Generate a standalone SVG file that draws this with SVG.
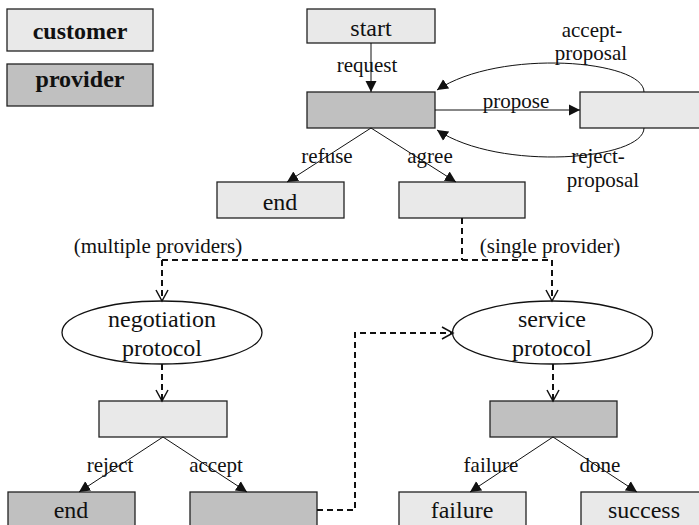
<svg xmlns="http://www.w3.org/2000/svg" width="699" height="525" viewBox="0 0 699 525">
<style>
.c{fill:#e9e9e9;stroke:#222;stroke-width:1.3}
.p{fill:#c0c0c0;stroke:#222;stroke-width:1.3}
.e{fill:#fff;stroke:#111;stroke-width:1.3}
text{font-family:"Liberation Serif","Times New Roman",serif;fill:#111;text-anchor:middle}
.n{font-size:24px}
.l{font-size:21px}
.b{font-size:24px;font-weight:bold}
.s{fill:none;stroke:#111;stroke-width:1}
.d{fill:none;stroke:#111;stroke-width:2;stroke-dasharray:6 4}
</style>
<defs>
<marker id="fa" markerUnits="userSpaceOnUse" markerWidth="12" markerHeight="12" viewBox="0 0 12 12" refX="11" refY="6" orient="auto">
<path d="M0,0.5 L11,6 L0,11.5 Z" fill="#111"/>
</marker>
<marker id="oa" markerUnits="userSpaceOnUse" markerWidth="14" markerHeight="14" viewBox="0 0 14 14" refX="12" refY="7" orient="auto">
<path d="M1,1 L12,7 L1,13" fill="none" stroke="#111" stroke-width="1.5"/>
</marker>
</defs>
<g id="legend-customer"><rect class="c" x="7" y="9" width="146" height="42"/><text class="b" x="80" y="39">customer</text></g>
<g id="legend-provider"><rect class="p" x="7" y="64" width="146" height="42"/><text class="b" x="80" y="87">provider</text></g>
<g id="start"><rect class="c" x="307" y="9" width="128" height="34"/><text class="n" x="371" y="36">start</text></g>
<g id="prov1"><rect class="p" x="307" y="92" width="128" height="36"/></g>
<g id="cust-propose"><rect class="c" x="580" y="92" width="130" height="36"/></g>
<g id="end1"><rect class="c" x="217" y="182" width="127" height="36"/><text class="n" x="280" y="210">end</text></g>
<g id="agree-box"><rect class="c" x="399" y="182" width="126" height="36"/></g>
<g id="negotiation"><ellipse class="e" cx="162" cy="332.5" rx="100" ry="31.5"/><text class="n" x="162" y="327">negotiation</text><text class="n" x="162" y="356">protocol</text></g>
<g id="service"><ellipse class="e" cx="552.5" cy="332.5" rx="100" ry="31.5"/><text class="n" x="552" y="327">service</text><text class="n" x="552" y="356">protocol</text></g>
<g id="cust2"><rect class="c" x="99" y="401" width="128" height="36"/></g>
<g id="prov2"><rect class="p" x="490" y="401" width="127" height="36"/></g>
<g id="end2"><rect class="p" x="8" y="492" width="127" height="40"/><text class="n" x="71" y="518">end</text></g>
<g id="prov3"><rect class="p" x="190" y="492" width="127" height="40"/></g>
<g id="failure"><rect class="c" x="399" y="492" width="127" height="40"/><text class="n" x="462" y="518">failure</text></g>
<g id="success"><rect class="c" x="581" y="492" width="130" height="40"/><text class="n" x="644" y="518">success</text></g>
<g id="connectors">
<line class="s" x1="371" y1="43" x2="371" y2="92" marker-end="url(#fa)"/>
<line class="s" x1="435" y1="110" x2="580" y2="110" marker-end="url(#fa)"/>
<path class="s" d="M644,92 C644,60 500,48 437,90" marker-end="url(#fa)"/>
<path class="s" d="M644,128 C644,160 500,172 437,130" marker-end="url(#fa)"/>
<line class="s" x1="371" y1="128" x2="287" y2="182" marker-end="url(#fa)"/>
<line class="s" x1="371" y1="128" x2="456" y2="182" marker-end="url(#fa)"/>
<path class="d" d="M462,218 V260"/>
<path class="d" d="M162,260 H552"/>
<path class="d" d="M162,260 V301" marker-end="url(#oa)"/>
<path class="d" d="M552,260 V301" marker-end="url(#oa)"/>
<path class="d" d="M162,364 V401" marker-end="url(#oa)"/>
<path class="d" d="M553,364 V401" marker-end="url(#oa)"/>
<line class="s" x1="163" y1="437" x2="79" y2="492" marker-end="url(#fa)"/>
<line class="s" x1="163" y1="437" x2="247" y2="492" marker-end="url(#fa)"/>
<line class="s" x1="553" y1="437" x2="470" y2="492" marker-end="url(#fa)"/>
<line class="s" x1="553" y1="437" x2="637" y2="492" marker-end="url(#fa)"/>
<path class="d" d="M317,510 H355 V333 H453" marker-end="url(#oa)"/>
</g>
<g id="labels">
<text class="l" x="367" y="72">request</text>
<text class="l" x="516" y="108">propose</text>
<text class="l" x="592" y="37">accept-</text>
<text class="l" x="591" y="60">proposal</text>
<text class="l" x="598" y="163">reject-</text>
<text class="l" x="603" y="187">proposal</text>
<text class="l" x="327" y="163">refuse</text>
<text class="l" x="430" y="163">agree</text>
<text class="l" x="158" y="253">(multiple providers)</text>
<text class="l" x="550" y="253">(single provider)</text>
<text class="l" x="110" y="472">reject</text>
<text class="l" x="216" y="472">accept</text>
<text class="l" x="491" y="472">failure</text>
<text class="l" x="600" y="472">done</text>
</g>
</svg>
